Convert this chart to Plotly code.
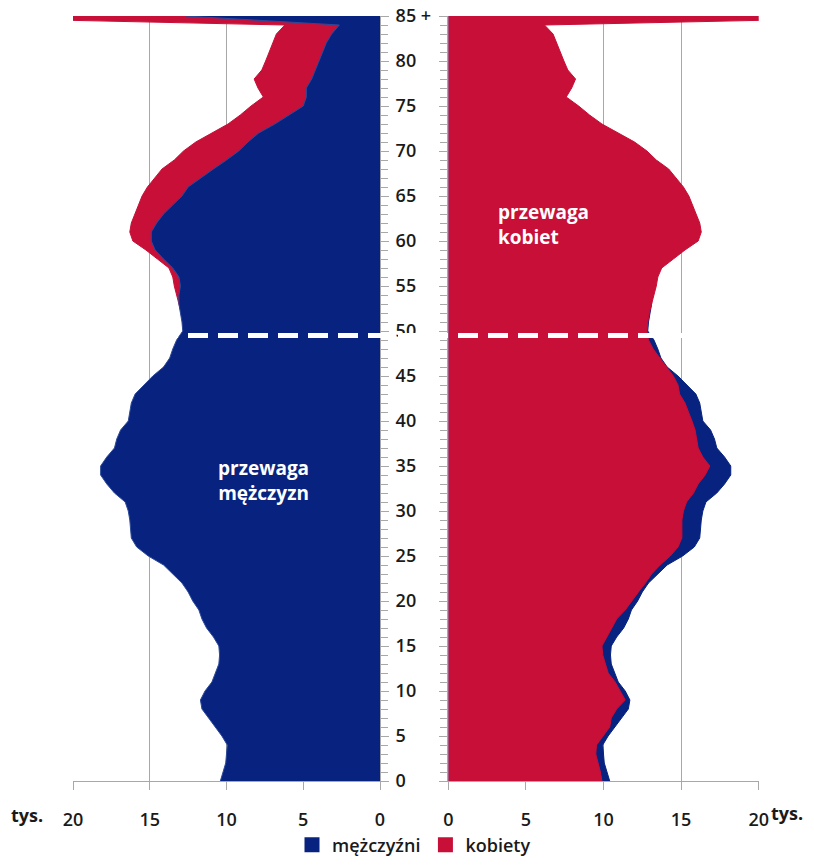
import plotly.graph_objects as go

# ---------------- data (thousands of persons) ----------------
ages = list(range(0, 86))
age_tick_vals = [0, 5, 10, 15, 20, 25, 30, 35, 40, 45, 50, 55, 60, 65, 70, 75, 80, 85]
age_tick_text = ["0", "5", "10", "15", "20", "25", "30", "35", "40", "45", "50",
                 "55", "60", "65", "70", "75", "80", "85 +"]
value_ticks = [0, 5, 10, 15, 20]

men = [10.4, 10.25, 10.05, 10.0, 9.95, 10.3, 10.75, 11.2, 11.6, 11.7,
       11.4, 10.95, 10.7, 10.5, 10.45, 10.5, 10.85, 11.3, 11.6, 11.8,
       12.2, 12.5, 12.9, 13.5, 14.1, 15.1, 15.85, 16.2, 16.25, 16.3,
       16.4, 16.6, 17.3, 17.8, 18.2, 18.2, 17.8, 17.3, 17.15, 16.9,
       16.4, 16.3, 16.2, 15.95, 15.4, 14.8, 14.1, 13.7, 13.5, 13.25,
       12.85, 12.9, 13.0, 13.1, 13.1, 13.0, 13.1, 13.5, 14.1, 14.65,
       14.9, 14.9, 14.55, 14.1, 13.5, 12.9, 12.5, 11.7, 10.85, 10.0,
       9.2, 8.6, 7.9, 6.85, 5.9, 5.0, 4.8, 4.8, 4.45, 4.2,
       4.0, 3.7, 3.5, 3.15, 2.65, 12.7]

women = [9.9, 9.8, 9.65, 9.5, 9.55, 10.0, 10.4, 10.5, 10.85, 11.4,
         11.05, 10.75, 10.3, 10.1, 9.95, 9.9, 10.2, 10.5, 10.85, 11.4,
         11.8, 12.25, 12.7, 13.1, 13.65, 14.3, 14.8, 15.05, 15.05, 15.05,
         15.15, 15.35, 15.8, 16.1, 16.55, 16.85, 16.4, 16.1, 16.0, 15.9,
         15.7, 15.45, 15.25, 14.9, 14.8, 14.5, 14.05, 13.6, 13.2, 12.9,
         12.8, 12.85, 12.95, 13.1, 13.25, 13.4, 13.5, 13.75, 14.5, 15.25,
         16.1, 16.3, 16.2, 15.95, 15.7, 15.5, 15.15, 14.7, 14.2, 13.4,
         12.8, 12.0, 10.95, 9.9, 9.1, 8.4, 7.6, 7.95, 8.2, 7.7,
         7.45, 7.2, 6.95, 6.75, 6.2, 33.0]

labels = {"men": "mężczyźni", "women": "kobiety"}
divider_age = 49.5

# ---------------- style ----------------
BLUE = "#08237f"
RED = "#c70f37"
GRID = "#a8a8a8"
TXT = "#1a1a1a"
FONT = "Open Sans"

# page body has an 8px margin: figure coordinates = window pixels - 8
OFF = 8
W, H = 798, 849


def px(x):
    return (x - OFF) / W


def py(y):
    return 1 - (y - OFF) / H


fig = go.Figure()

# left panel: women behind, men in front
fig.add_trace(go.Scatter(x=women, y=ages, xaxis="x", yaxis="y", mode="lines",
                         fill="tozerox", fillcolor=RED, line=dict(color=RED, width=1),
                         showlegend=False, hoverinfo="skip"))
fig.add_trace(go.Scatter(x=men, y=ages, xaxis="x", yaxis="y", mode="lines",
                         fill="tozerox", fillcolor=BLUE, line=dict(color="#2c4a9a", width=1),
                         showlegend=False, hoverinfo="skip"))
# right panel: men behind, women in front
fig.add_trace(go.Scatter(x=men, y=ages, xaxis="x2", yaxis="y2", mode="lines",
                         fill="tozerox", fillcolor=BLUE, line=dict(color=BLUE, width=1),
                         showlegend=False, hoverinfo="skip"))
fig.add_trace(go.Scatter(x=women, y=ages, xaxis="x2", yaxis="y2", mode="lines",
                         fill="tozerox", fillcolor=RED, line=dict(color=RED, width=1),
                         showlegend=False, hoverinfo="skip"))

# legend entries
fig.add_trace(go.Scatter(x=[None], y=[None], mode="markers", name=labels["men"],
                         marker=dict(symbol="square", size=15, color=BLUE)))
fig.add_trace(go.Scatter(x=[None], y=[None], mode="markers", name=labels["women"],
                         marker=dict(symbol="square", size=15, color=RED)))

y_dom = [py(781), py(16)]
tickfont = dict(family=FONT, size=18, color=TXT, weight=600)

common_x = dict(tickmode="array", tickvals=value_ticks, ticks="outside", ticklen=8,
                tickcolor=GRID, showline=True, linecolor=GRID, linewidth=1,
                showgrid=True, gridcolor=GRID, gridwidth=1, zeroline=False,
                tickfont=tickfont, ticklabelstandoff=14, fixedrange=True,
                automargin=False, ticklabeloverflow="allow")

fig.update_layout(
    width=W, height=H,
    margin=dict(l=0, r=0, t=0, b=0, autoexpand=False),
    paper_bgcolor="white", plot_bgcolor="white",
    font=dict(family=FONT, color=TXT),
    xaxis=dict(domain=[px(73), px(380)], range=[20, 0], anchor="y", **common_x),
    xaxis2=dict(domain=[px(448.3), px(758.7)], range=[0, 20], anchor="y2", **common_x),
    yaxis=dict(domain=y_dom, range=[0, 85], anchor="x", side="right",
               tickmode="array", tickvals=age_tick_vals, ticktext=age_tick_text,
               ticks="outside", ticklen=8, tickcolor=GRID,
               minor=dict(dtick=1, ticks="outside", ticklen=7, tickcolor=GRID),
               showline=True, linecolor=GRID, showgrid=False, zeroline=False,
               tickfont=tickfont, ticklabelstandoff=3, fixedrange=True,
               automargin=False, ticklabeloverflow="allow"),
    yaxis2=dict(domain=y_dom, range=[0, 85], anchor="x2", side="left",
                tickmode="array", tickvals=age_tick_vals, showticklabels=False,
                ticks="outside", ticklen=8, tickcolor=GRID,
                minor=dict(dtick=1, ticks="outside", ticklen=7, tickcolor=GRID),
                showline=True, linecolor=GRID, showgrid=False, zeroline=False,
                fixedrange=True, automargin=False),
    legend=dict(orientation="h", x=px(414), xanchor="center", y=py(845), yanchor="middle",
                font=dict(family=FONT, size=18, color=TXT, weight=600),
                itemwidth=30, tracegroupgap=0, bgcolor="rgba(0,0,0,0)"),
    shapes=[dict(type="line", xref="paper", yref="y", x0=0.0, x1=0.93,
                 y0=divider_age, y1=divider_age, layer="above",
                 line=dict(color="white", width=5, dash="20px,10px"))],
    annotations=[
        dict(text="przewaga<br>mężczyzn", xref="x", yref="y", x=7.56, y=33.4,
             showarrow=False, align="center",
             font=dict(family=FONT, size=19, color="white", weight=700)),
        dict(text="przewaga<br>kobiet", xref="x2", yref="y2", x=3.1, y=61.8,
             xanchor="left", showarrow=False, align="left",
             font=dict(family=FONT, size=19, color="white", weight=700)),
        dict(text="przewaga<br>mężczyzn", xref="x", yref="y", x=16.7, y=9.9,
             xanchor="left", showarrow=False, align="left",
             font=dict(family=FONT, size=24, color="rgba(0,0,0,0.025)", weight=700)),
        dict(text="tys.", xref="paper", yref="paper", x=px(27), y=py(815),
             xanchor="center", yanchor="middle",
             showarrow=False, font=dict(family=FONT, size=18, color=TXT, weight=700)),
        dict(text="tys.", xref="paper", yref="paper", x=px(805), y=py(813),
             xanchor="right", yanchor="middle",
             showarrow=False, font=dict(family=FONT, size=18, color=TXT, weight=700)),
    ],
)

fig.write_html("out.html")
